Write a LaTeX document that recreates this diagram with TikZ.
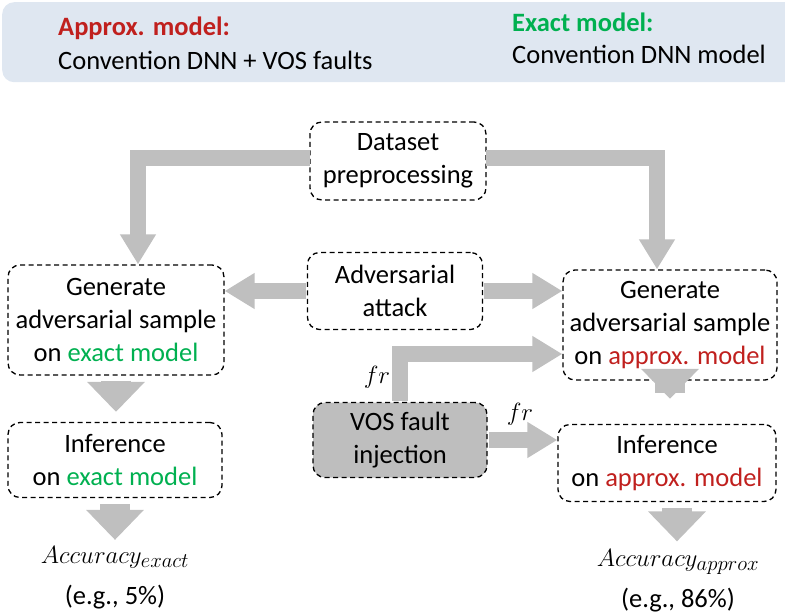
\documentclass[tikz,border=0pt]{standalone}
\usepackage{fontspec}
\setmainfont{Carlito}
\usetikzlibrary{arrows.meta,calc}
\definecolor{hdrbg}{HTML}{DFE7F1}
\definecolor{redm}{HTML}{C0201E}
\definecolor{greenm}{HTML}{00B050}
\definecolor{arrg}{HTML}{BFBFBF}
\definecolor{vosg}{HTML}{BEBEBE}
\begin{document}
\begin{tikzpicture}[x=1pt,y=-1pt,
  every node/.style={font=\fontsize{26.5}{33}\selectfont, inner sep=0pt},
  dbox/.style={draw=black, dashed, dash pattern=on 5pt off 3.5pt, line width=1.3pt,
    rounded corners=12pt, align=center},
  fatarrow/.style={draw=arrg, line width=16pt,
    -{Triangle[width=34pt,length=30pt]}},
  downarrow/.style={draw=arrg, line width=30pt,
    -{Triangle[width=56pt,length=30pt]}},
  lbl/.style={anchor=west, text=black}]
\useasboundingbox (0,0) rectangle (785,615);
% header
\node[fill=hdrbg, rounded corners=12pt, minimum width=800pt, minimum height=80pt, anchor=north west] (hdr) at (2,2) {};
\node[lbl, font=\fontsize{26.5}{30}\selectfont\bfseries, text=redm] (hA) at (58,28) {Approx. model:};
\node[lbl] (hA2) at (58,60) {Convention DNN + VOS faults};
\node[lbl, font=\fontsize{26.5}{30}\selectfont\bfseries, text=greenm] (hE) at (512,22) {Exact model:};
\node[lbl] (hE2) at (512,54) {Convention DNN model};
% boxes
\node[dbox, minimum width=176pt, minimum height=78pt] (ds) at (398,161) {Dataset\\preprocessing};
\node[dbox, minimum width=175pt, minimum height=77pt] (adv) at (395,291) {Adversarial\\attack};
\node[dbox, minimum width=216pt, minimum height=110pt] (genL) at (116,320) {Generate\\adversarial sample\\on \textcolor{greenm}{exact model}};
\node[dbox, minimum width=214pt, minimum height=110pt] (genR) at (670,325) {Generate\\adversarial sample\\on \textcolor{redm}{approx. model}};
\node[dbox, minimum width=214pt, minimum height=75pt] (infL) at (115,460) {Inference\\on \textcolor{greenm}{exact model}};
\node[dbox, fill=vosg, minimum width=174pt, minimum height=75pt] (vos) at (400,440) {VOS fault\\injection};
\node[dbox, minimum width=218pt, minimum height=77pt] (infR) at (667,463) {Inference\\on \textcolor{redm}{approx. model}};
\node[font=\fontsize{28}{33}\selectfont] (accL) at (115,557) {$Accuracy_{exact}$};
\node (egL) at (115,597) {(e.g., 5\%)};
\node[font=\fontsize{28}{33}\selectfont] (accR) at (678,562) {$Accuracy_{approx}$};
\node (egR) at (678,600) {(e.g., 86\%)};
\node (frA) at (377,377) {$fr$};
\node (frB) at (520,414) {$fr$};
% arrows
\draw[fatarrow, shorten <=-0.5pt] ($(ds.west)+(0,-3)$) -| ([xshift=22pt]genL.north);
\draw[fatarrow, shorten <=-0.5pt] ($(ds.east)+(0,-3)$) -| ([xshift=-13pt]genR.north);
\draw[fatarrow, shorten <=1pt] (adv.west) -- (adv.west -| genL.east);
\draw[fatarrow, shorten <=1pt] (adv.east) -- (adv.east -| genR.west);
\draw[fatarrow, shorten <=1pt] (vos.north) |- ($(genR.west)+(0,29)$);
\draw[fatarrow, shorten <=1pt] (vos.east) -- (vos.east -| infR.west);
\draw[downarrow, shorten <=5pt, shorten >=10pt] (genL.south) -- (genL.south |- infL.north);
\draw[downarrow, shorten <=-12pt, shorten >=25pt] (genR.south) -- (genR.south |- infR.north);
\draw[downarrow, shorten <=6pt, shorten >=6pt] (infL.south) -- (infL.south |- accL.north);
\draw[downarrow, shorten <=6pt, shorten >=8pt] ([xshift=10pt]infR.south) -- ([xshift=10pt]infR.south |- accR.north);
\end{tikzpicture}
\end{document}
